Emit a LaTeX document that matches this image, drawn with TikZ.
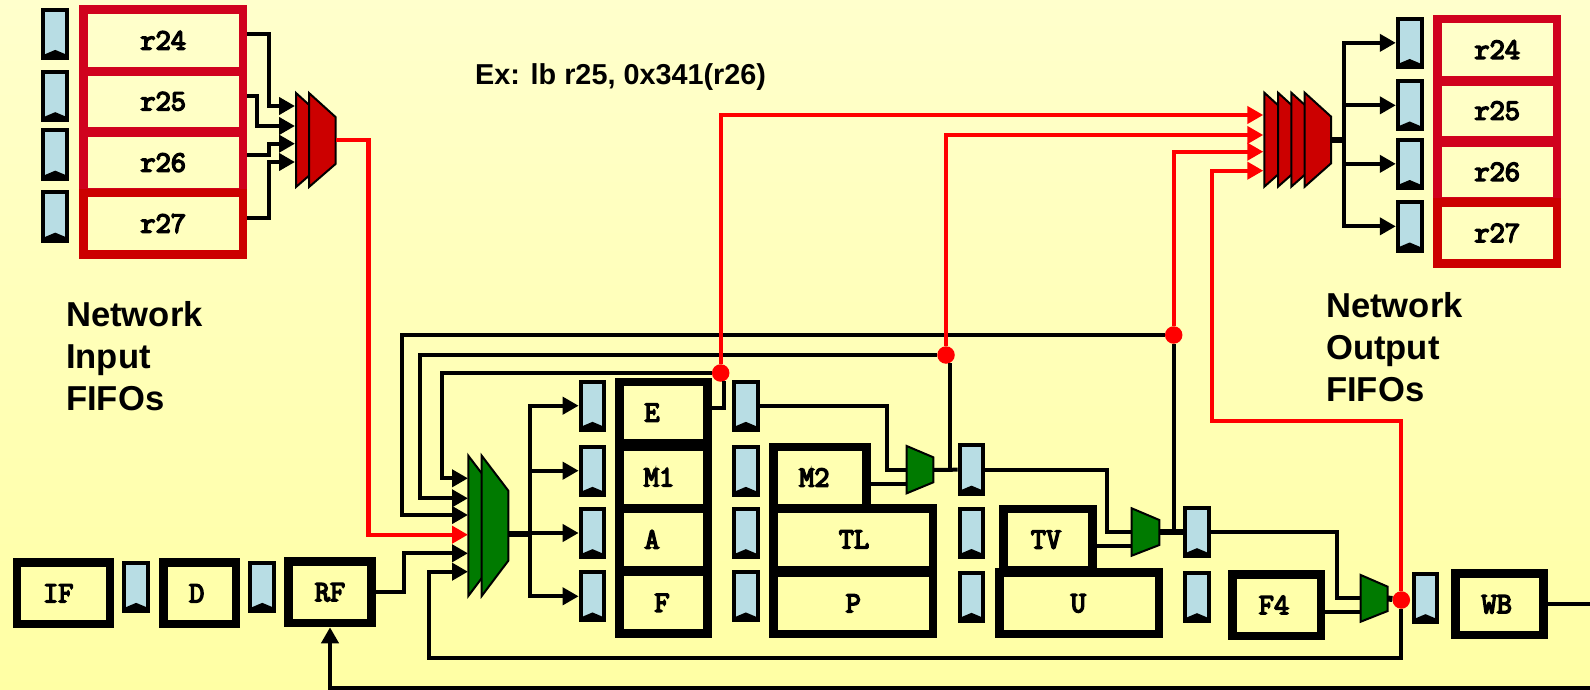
\documentclass[tikz,border=0pt]{standalone}
\usepackage{fontspec}
\setsansfont{Liberation Sans}
\newfontfamily\pipefont{Latin Modern Mono}[FakeBold=5]
\usetikzlibrary{arrows.meta}
\usepackage{xcolor}
\definecolor{bgtop}{RGB}{255,255,204}
\definecolor{bgbottom}{RGB}{255,255,164}
\definecolor{fifoblue}{RGB}{184,221,228}
\definecolor{regcrimson}{RGB}{208,2,30}
\definecolor{regred}{RGB}{204,0,0}
\definecolor{muxgreen}{RGB}{0,122,0}
\definecolor{wirered}{RGB}{255,0,0}
\tikzset{
  pipebox/.style={draw=black,line width=8.5pt,inner sep=0pt},
  regbox/.style={draw=regcrimson,line width=8.5pt,inner sep=0pt,minimum width=#1,
    font=\pipefont\fontsize{29.5}{30}\selectfont},
  pipetext/.style={inner sep=0pt,font=\pipefont\fontsize{29.5}{30}\selectfont},
  bigtext/.style={inner sep=0pt,anchor=west,align=left,font=\sffamily\bfseries\fontsize{34.6}{42}\selectfont},
  fifobox/.style={draw=black,fill=fifoblue,line width=4pt,minimum width=23.7pt,minimum height=48.3pt,inner sep=0pt,
    path picture={\fill[black] ([yshift=3pt]path picture bounding box.south west)
      -- ([yshift=8pt]path picture bounding box.south)
      -- ([yshift=3pt]path picture bounding box.south east)
      -- (path picture bounding box.south east) -- (path picture bounding box.south west) -- cycle;}},
  wire/.style={line width=4pt,draw=black},
  thickwire/.style={line width=6pt,draw=black},
  arrowwire/.style={wire,-{Triangle[length=16pt,width=17pt]}},
  redwire/.style={line width=4.3pt,draw=wirered,-{Triangle[length=16pt,width=17pt]}},
  muxred/.style={draw=black,line width=2pt,fill=regred},
  muxgrn/.style={draw=black,line width=2pt,fill=muxgreen},
  dotnode/.style={circle,fill=wirered,inner sep=0pt,minimum size=17.5pt}
}
\begin{document}
\begin{tikzpicture}[x=1pt,y=-1pt]

\useasboundingbox (0,0) rectangle (1590,690);
\shade[top color=bgtop,bottom color=bgbottom] (0,0) rectangle (1590,690);

\foreach \name/\y in {in24/33.75,in25/96,in26/154.5,in27/216.5} \node[fifobox] (fifo\name) at (55.25,\y) {};
\foreach \name/\y in {out24/42.85,out25/105.35,out26/163.85,out27/226.35} \node[fifobox] (fifo\name) at (1409.65,\y) {};
\foreach \name/\x/\y in {E/592.5/405.7,Mone/592.5/470.7,A/592.5/533,F/592.5/596.3,
  Etwo/745.85/405.7,Mtwo/745.85/470.7,Atwo/745.85/533,Ftwo/745.85/596.3,
  Xone/971.5/469.5,Xtwo/971.5/532.85,Xthree/971.5/596.7,Wone/1197/532,Wtwo/1197/597,
  IF/136.15/586.7,D/262.3/586.7,WB/1425.5/598} \node[fifobox] (fifo\name) at (\x,\y) {};

\foreach \name/\y/\h in {24/40.3/61.2,25/101.3/59.2,26/162.6/59.2}
  \node[regbox=159.6pt,minimum height=\h pt] (inr\name) at (163.2,\y) {r\name};
\node[regbox=159.6pt,minimum height=61.5pt,draw=regred] (inr27) at (163.2,223.5) {r27};
\foreach \name/\y/\h in {24/49.6/61.2,25/110.7/58.5,26/171.9/58.2}
  \node[regbox=119.5pt,minimum height=\h pt] (outr\name) at (1497.2,\y) {r\name};
\node[regbox=119.5pt,minimum height=61.1pt,draw=regred] (outr27) at (1497.2,233) {r27};

\foreach \name/\cx/\cy/\w/\tx in {IF/63.35/593.3/92.8/58.3,D/199.5/593.3/72.5/196.7,RF/330/592.3/82.9/330,
  E/663.35/412.5/88.2/652,M1/663.35/477.2/88.2/659,A/663.35/539.35/88.2/652,F/663.35/602.8/88.2/662,
  M2/820/477.5/92.9/814.3,TL/853.3/539.35/159.5/854,P/853.3/603.35/159.5/853.3,
  TV/1048/539.65/88.9/1046,U/1079.15/603.35/159.8/1078.3,F4/1276.65/605/88.2/1274,WB/1499.35/604.3/88.2/1496.7} {
  \node[pipebox,minimum width=\w pt,minimum height=61.5pt] (\name) at (\cx,\cy) {};
  \node[pipetext] (text\name) at (\tx,\cy) {\name};
}

\node[inner sep=0pt,anchor=base west,font=\sffamily\bfseries\fontsize{28.8}{34}\selectfont] (example) at (475,85) {Ex: lb r25, 0x341(r26)};
\node[bigtext] (inlabel) at (66,356) {Network\\Input\\FIFOs};
\node[bigtext] (outlabel) at (1326,347) {Network\\Output\\FIFOs};

\node[dotnode] (dotE) at (720.7,373) {};
\node[dotnode] (dotM) at (946,355) {};
\node[dotnode] (dotT) at (1173.7,335) {};
\node[dotnode] (dotW) at (1401.3,600) {};

\foreach \i/\y in {1/106,2/126,3/143.7,4/162} \coordinate (redin\i) at (295,\y);
\foreach \i/\y in {1/478.3,2/498.3,3/515,4/534.7,5/553.3,6/571.7} \coordinate (grnin\i) at (468,\y);
\foreach \i/\y in {1/115,2/135,3/151.7,4/170.7} \coordinate (redout\i) at (1263.3,\y);
\coordinate (redmuxout) at (336,140);
\coordinate (grnsplit) at (530,534);
\coordinate (outsplit) at (1344.3,140);
\coordinate (wbend) at (1590,604.3);
\coordinate (loopend) at (1590,687.7);

\foreach \reg/\wy/\bx/\inp in {inr24/34/269/redin1,inr25/96/257/redin2,inr26/155/268.5/redin3,inr27/217.5/268.5/redin4}
  \draw[arrowwire] (\reg.east |- 0,\wy) -- (\bx,\wy) |- (\inp);
\foreach \x in {296,309} \draw[muxred] (\x,93) -- ({\x+26.5},117) -- ({\x+26.5},164) -- (\x,187) -- cycle;

\foreach \x in {468.3,481.7} \draw[muxgrn] (\x,455.7) -- ({\x+26.6},490.7) -- ({\x+26.6},560.7) -- (\x,596) -- cycle;
\draw[arrowwire] (dotE) -| (442,478.3) -- (grnin1);
\draw[arrowwire] (dotM) -| (420,498.3) -- (grnin2);
\draw[arrowwire] (dotT) -| (402,515) -- (grnin3);
\draw[arrowwire] (RF.east) -| (404,553.3) -- (grnin5);
\draw[arrowwire] (dotW.south) |- (429,658) |- (grnin6);
\draw[thickwire] (508.3,534) -- (grnsplit);
\foreach \dest in {E,Mone,A,F} \draw[arrowwire] (grnsplit) |- (fifo\dest.west);

\draw[wire] (E.east |- 0,408) -| (dotE.-67);
\draw[wire] (fifoEtwo) -| (886.7,470) -- (906.7,470);
\draw[wire] (M2.east |- 0,484) -- (906.7,484);
\draw[muxgrn] (906.7,446) -- (933.3,457.3) -- (933.3,482.3) -- (906.7,493.3) -- cycle;
\draw[wire] (933.3,470) -- (fifoXone);
\draw[wire] (dotM.-65) -- (dotM.-65 |- fifoXone);

\draw[wire] (fifoXone) -| (1106.7,532.3) -- (1131.7,532.3);
\draw[wire] (TV.east |- 0,545.7) -- (1131.7,545.7);
\draw[muxgrn] (1131.7,508.3) -- (1159.3,520) -- (1159.3,545) -- (1131.7,555.7) -- cycle;
\draw[thickwire] (1159.3,532) -- (fifoWone);
\draw[wire] (dotT) -- (dotT |- fifoWone);

\draw[wire] (fifoWone) -| (1337.3,598.3) -- (1360.7,598.3);
\draw[wire] (F4.east |- 0,612) -- (1360.7,612);
\draw[muxgrn] (1360.7,575) -- (1387.7,586.7) -- (1387.7,611) -- (1360.7,621.7) -- cycle;
\draw[thickwire] (1387.7,598.5) -- (dotW);

\draw[wire] (WB) -- (wbend);
\draw[arrowwire] (loopend) -| (RF.south);

\draw[redwire] (redmuxout) -| (368.5,534.7) -- (grnin4);
\draw[redwire] (dotE) |- (redout1);
\draw[redwire] (dotM) |- (redout2);
\draw[redwire] (dotT) |- (redout3);
\draw[redwire] (dotW) |- (1211.7,421) |- (redout4);

\foreach \x in {1264.3,1278,1291.3,1304.7} \draw[muxred] (\x,92.7) -- ({\x+26.4},116.7) -- ({\x+26.4},163.3) -- (\x,186.7) -- cycle;
\draw[thickwire] (1331,140) -- (outsplit);
\foreach \dest in {out24,out25,out26,out27} \draw[arrowwire] (outsplit) |- (fifo\dest.west);

\end{tikzpicture}
\end{document}
